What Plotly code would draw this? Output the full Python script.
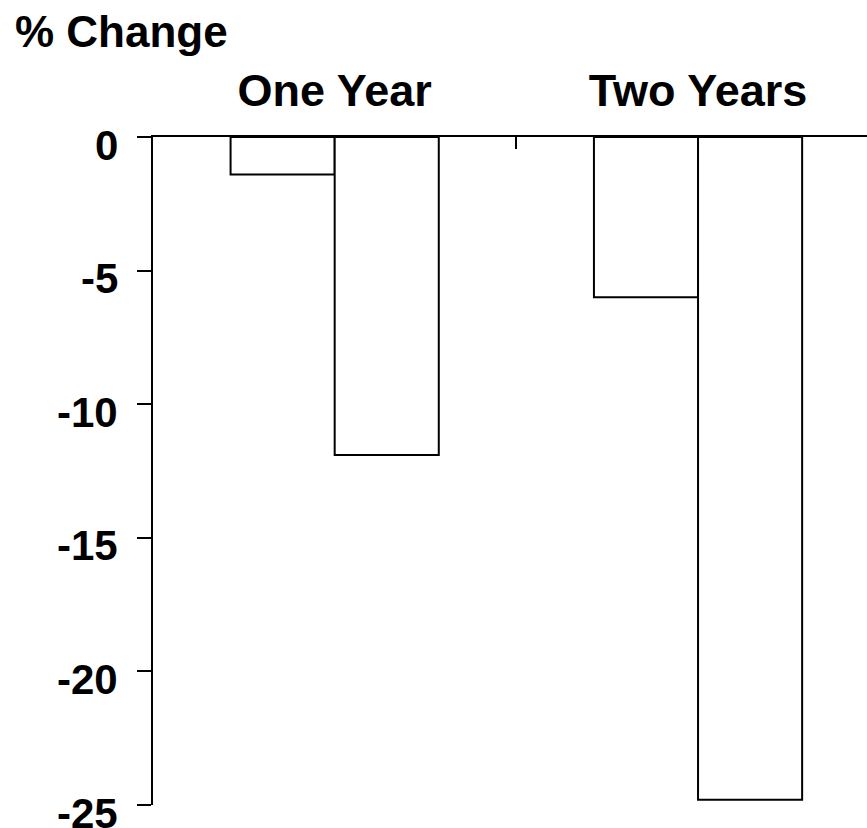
import plotly.graph_objects as go

categories = ["One Year", "Two Years"]
series_a = [-1.4, -6.0]
series_b = [-11.9, -24.8]
series_names = ["Series A", "Series B"]
y_ticks = [0, -5, -10, -15, -20, -25]
y_title = "% Change"

FONT = "Liberation Sans, Arial, Helvetica, sans-serif"

fig = go.Figure()
for vals, name in zip([series_a, series_b], series_names):
    fig.add_trace(go.Bar(
        x=categories, y=vals, name=name, showlegend=False,
        marker=dict(color="white", line=dict(color="black", width=2)),
    ))

fig.update_layout(
    width=867, height=828,
    barmode="group", bargap=0.427, bargroupgap=0,
    plot_bgcolor="white", paper_bgcolor="white",
    margin=dict(l=153, r=0, t=137, b=23, pad=0, autoexpand=False),
    font=dict(family=FONT, color="black"),
)
fig.update_xaxes(
    type="category", side="top", range=[-0.5, 1.465], automargin=False,
    showline=True, linecolor="black", linewidth=2,
    ticks="inside", tickson="boundaries", ticklen=12, tickwidth=2, tickcolor="black",
    tickfont=dict(family=FONT, size=45, weight="bold", color="black"),
    ticklabelstandoff=11,
    showgrid=False, zeroline=False,
)
fig.update_yaxes(
    range=[-25, 0], tickvals=y_ticks, showticklabels=False, automargin=False,
    ticks="outside", ticklen=14, tickwidth=2, tickcolor="black",
    showline=True, linewidth=2, linecolor="black",
    showgrid=False, zeroline=False,
)

for v in y_ticks:
    fig.add_annotation(
        x=0, xref="paper", y=v, yref="y", text=f"<b>{v}</b>",
        showarrow=False, xanchor="right", yanchor="middle",
        xshift=-33, yshift=-8,
        font=dict(family=FONT, size=42, color="black"),
    )

fig.add_annotation(
    x=0, xref="paper", y=1, yref="paper", text=f"<b>{y_title}</b>",
    showarrow=False, xanchor="left", yanchor="middle",
    xshift=-140, yshift=106,
    font=dict(family=FONT, size=44, color="black"),
)

fig.write_html(
    "out.html",
    config={"displayModeBar": False},
    post_script="document.body.style.margin='0';document.body.style.overflow='hidden';",
)
